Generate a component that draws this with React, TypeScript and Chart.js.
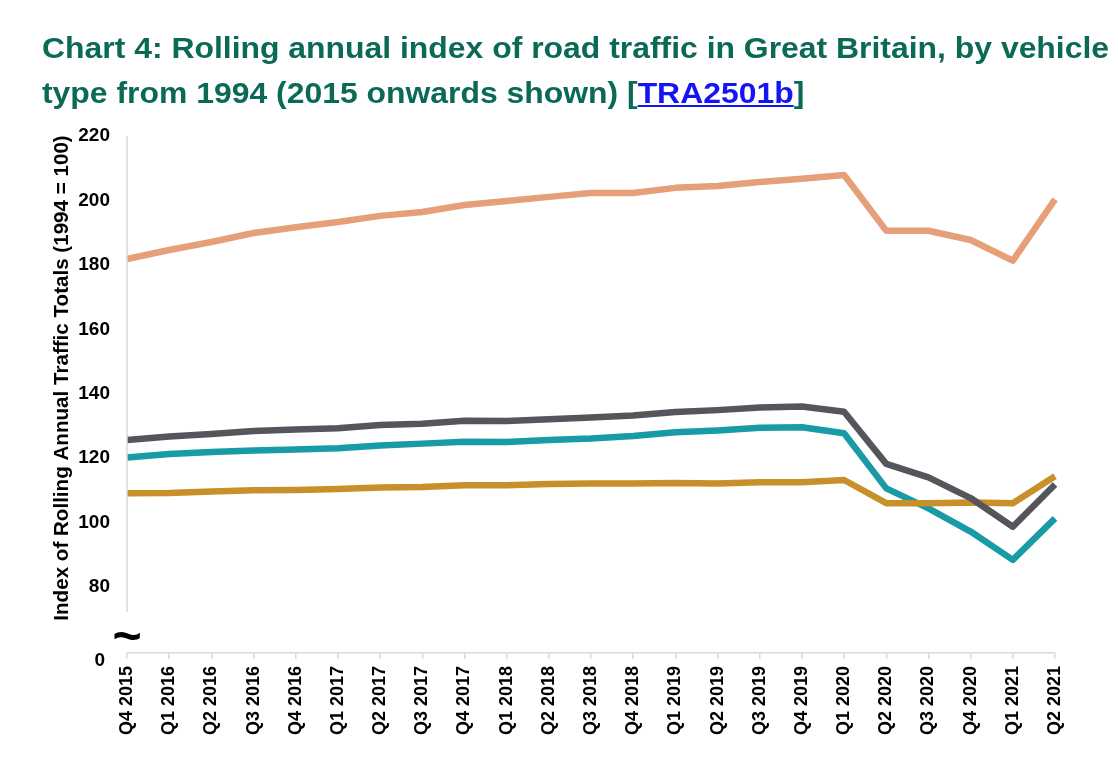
import React, { useEffect, useRef } from "react";
import { Chart, registerables } from "chart.js";

Chart.register(...registerables);

const categories = [
  "Q4 2015", "Q1 2016", "Q2 2016", "Q3 2016", "Q4 2016", "Q1 2017", "Q2 2017", "Q3 2017",
  "Q4 2017", "Q1 2018", "Q2 2018", "Q3 2018", "Q4 2018", "Q1 2019", "Q2 2019", "Q3 2019",
  "Q4 2019", "Q1 2020", "Q2 2020", "Q3 2020", "Q4 2020", "Q1 2021", "Q2 2021",
];

const orangeSeries = [
  181.8, 184.6, 187.1, 189.9, 191.7, 193.3, 195.2, 196.4, 198.6, 199.8, 201.1, 202.3,
  202.3, 203.9, 204.5, 205.7, 206.7, 207.9, 190.6, 190.6, 187.7, 181.3, 200.3,
];
const graySeries = [
  125.6, 126.7, 127.5, 128.4, 128.9, 129.3, 130.3, 130.7, 131.6, 131.5, 132.1, 132.6,
  133.2, 134.3, 134.9, 135.7, 136.0, 134.4, 118.2, 114.0, 107.6, 98.7, 111.8,
];
const tealSeries = [
  120.2, 121.3, 121.9, 122.4, 122.7, 123.1, 123.9, 124.5, 125.1, 125.0, 125.6, 126.1,
  126.9, 128.0, 128.6, 129.4, 129.6, 127.7, 110.6, 104.4, 97.2, 88.4, 101.3,
];
const goldSeries = [
  109.1, 109.2, 109.6, 110.0, 110.1, 110.4, 110.9, 111.0, 111.6, 111.6, 112.0, 112.1,
  112.1, 112.3, 112.1, 112.5, 112.5, 113.2, 106.0, 106.0, 106.2, 106.0, 114.4,
];

const yTickValues = [80, 100, 120, 140, 160, 180, 200, 220];
const yBreakLabel = "0";
const yMin = 59.5;
const yMax = 220;

const FONT = '"Liberation Sans", Arial, Helvetica, sans-serif';

const decorPlugin = {
  id: "decor",
  afterDraw(chart: any) {
    const { ctx, chartArea } = chart;
    const { left, top, bottom } = chartArea;
    ctx.save();
    // y axis line with break
    ctx.strokeStyle = "#d9d9d9";
    ctx.lineWidth = 1.5;
    ctx.beginPath();
    ctx.moveTo(left, top);
    ctx.lineTo(left, bottom - 41);
    ctx.stroke();
    // tilde break marker
    ctx.fillStyle = "#000";
    ctx.font = `bold 50px ${FONT}`;
    ctx.textAlign = "center";
    ctx.textBaseline = "middle";
    ctx.fillText("~", left, bottom - 14);
    // zero label
    ctx.font = `bold 19px ${FONT}`;
    ctx.textAlign = "right";
    ctx.fillText(yBreakLabel, left - 22, bottom + 8);
    // y axis title
    ctx.translate(62, 378);
    ctx.rotate(-Math.PI / 2);
    ctx.font = `bold 20.6px ${FONT}`;
    ctx.textAlign = "center";
    ctx.fillText("Index of Rolling Annual Traffic Totals (1994 = 100)", 0, 0);
    ctx.restore();
  },
};

export default function App() {
  const canvasRef = useRef<HTMLCanvasElement | null>(null);

  useEffect(() => {
    if (!canvasRef.current) return;
    const mk = (data: number[], color: string) => ({
      data,
      borderColor: color,
      backgroundColor: color,
      borderWidth: 6.5,
      pointRadius: 0,
      tension: 0,
      fill: false,
      borderJoinStyle: "round" as const,
    });
    const chart = new Chart(canvasRef.current, {
      type: "line",
      data: {
        labels: categories,
        datasets: [
          mk(graySeries, "#55565b"),
          mk(goldSeries, "#c8902a"),
          mk(tealSeries, "#189ba6"),
          mk(orangeSeries, "#e5a079"),
        ],
      },
      options: {
        animation: false,
        responsive: false,
        devicePixelRatio: 1,
        layout: { padding: { left: 0, top: 136, right: 63, bottom: 0 } },
        plugins: { legend: { display: false }, tooltip: { enabled: false }, title: { display: false } },
        scales: {
          x: {
            offset: false,
            grid: { drawOnChartArea: false, drawTicks: true, tickLength: 6, color: "#d9d9d9", lineWidth: 1.5 },
            border: { display: true, color: "#d9d9d9", width: 1.5 },
            ticks: {
              autoSkip: false,
              maxRotation: 90,
              minRotation: 90,
              padding: 7,
              color: "#000",
              font: { family: FONT, size: 18, weight: "bold" },
            },
            afterFit: (scale: any) => { scale.height = 123; },
          },
          y: {
            min: yMin,
            max: yMax,
            grid: { display: false, drawTicks: false },
            border: { display: false },
            ticks: {
              padding: 17,
              color: "#000",
              font: { family: FONT, size: 19, weight: "bold" },
              callback: (v: any) => (yTickValues.includes(Number(v)) ? String(v) : ""),
            },
            afterBuildTicks: (scale: any) => {
              scale.ticks = yTickValues.map((v) => ({ value: v }));
            },
            afterFit: (scale: any) => { scale.width = 127; },
          },
        },
      },
      plugins: [decorPlugin],
    });
    return () => chart.destroy();
  }, []);

  return (
    <div style={{ position: "fixed", left: 0, top: 0, width: 1118, height: 776, background: "#fff", overflow: "hidden" }}>
      <canvas ref={canvasRef} width={1118} height={776} style={{ position: "absolute", left: 0, top: 0, width: 1118, height: 776 }} />
      <div
        style={{
          position: "absolute",
          left: 42,
          top: 26,
          font: `bold 29px ${FONT}`,
          lineHeight: "45px",
          color: "#0b6a55",
          whiteSpace: "nowrap",
          transform: "scaleX(1.1)",
          transformOrigin: "0 0",
        }}
      >
        Chart 4: Rolling annual index of road traffic in Great Britain, by vehicle
        <br />
        type from 1994 (2015 onwards shown) [
        <a href="#" style={{ color: "#1414f5", textDecoration: "underline" }}>TRA2501b</a>]
      </div>
    </div>
  );
}
